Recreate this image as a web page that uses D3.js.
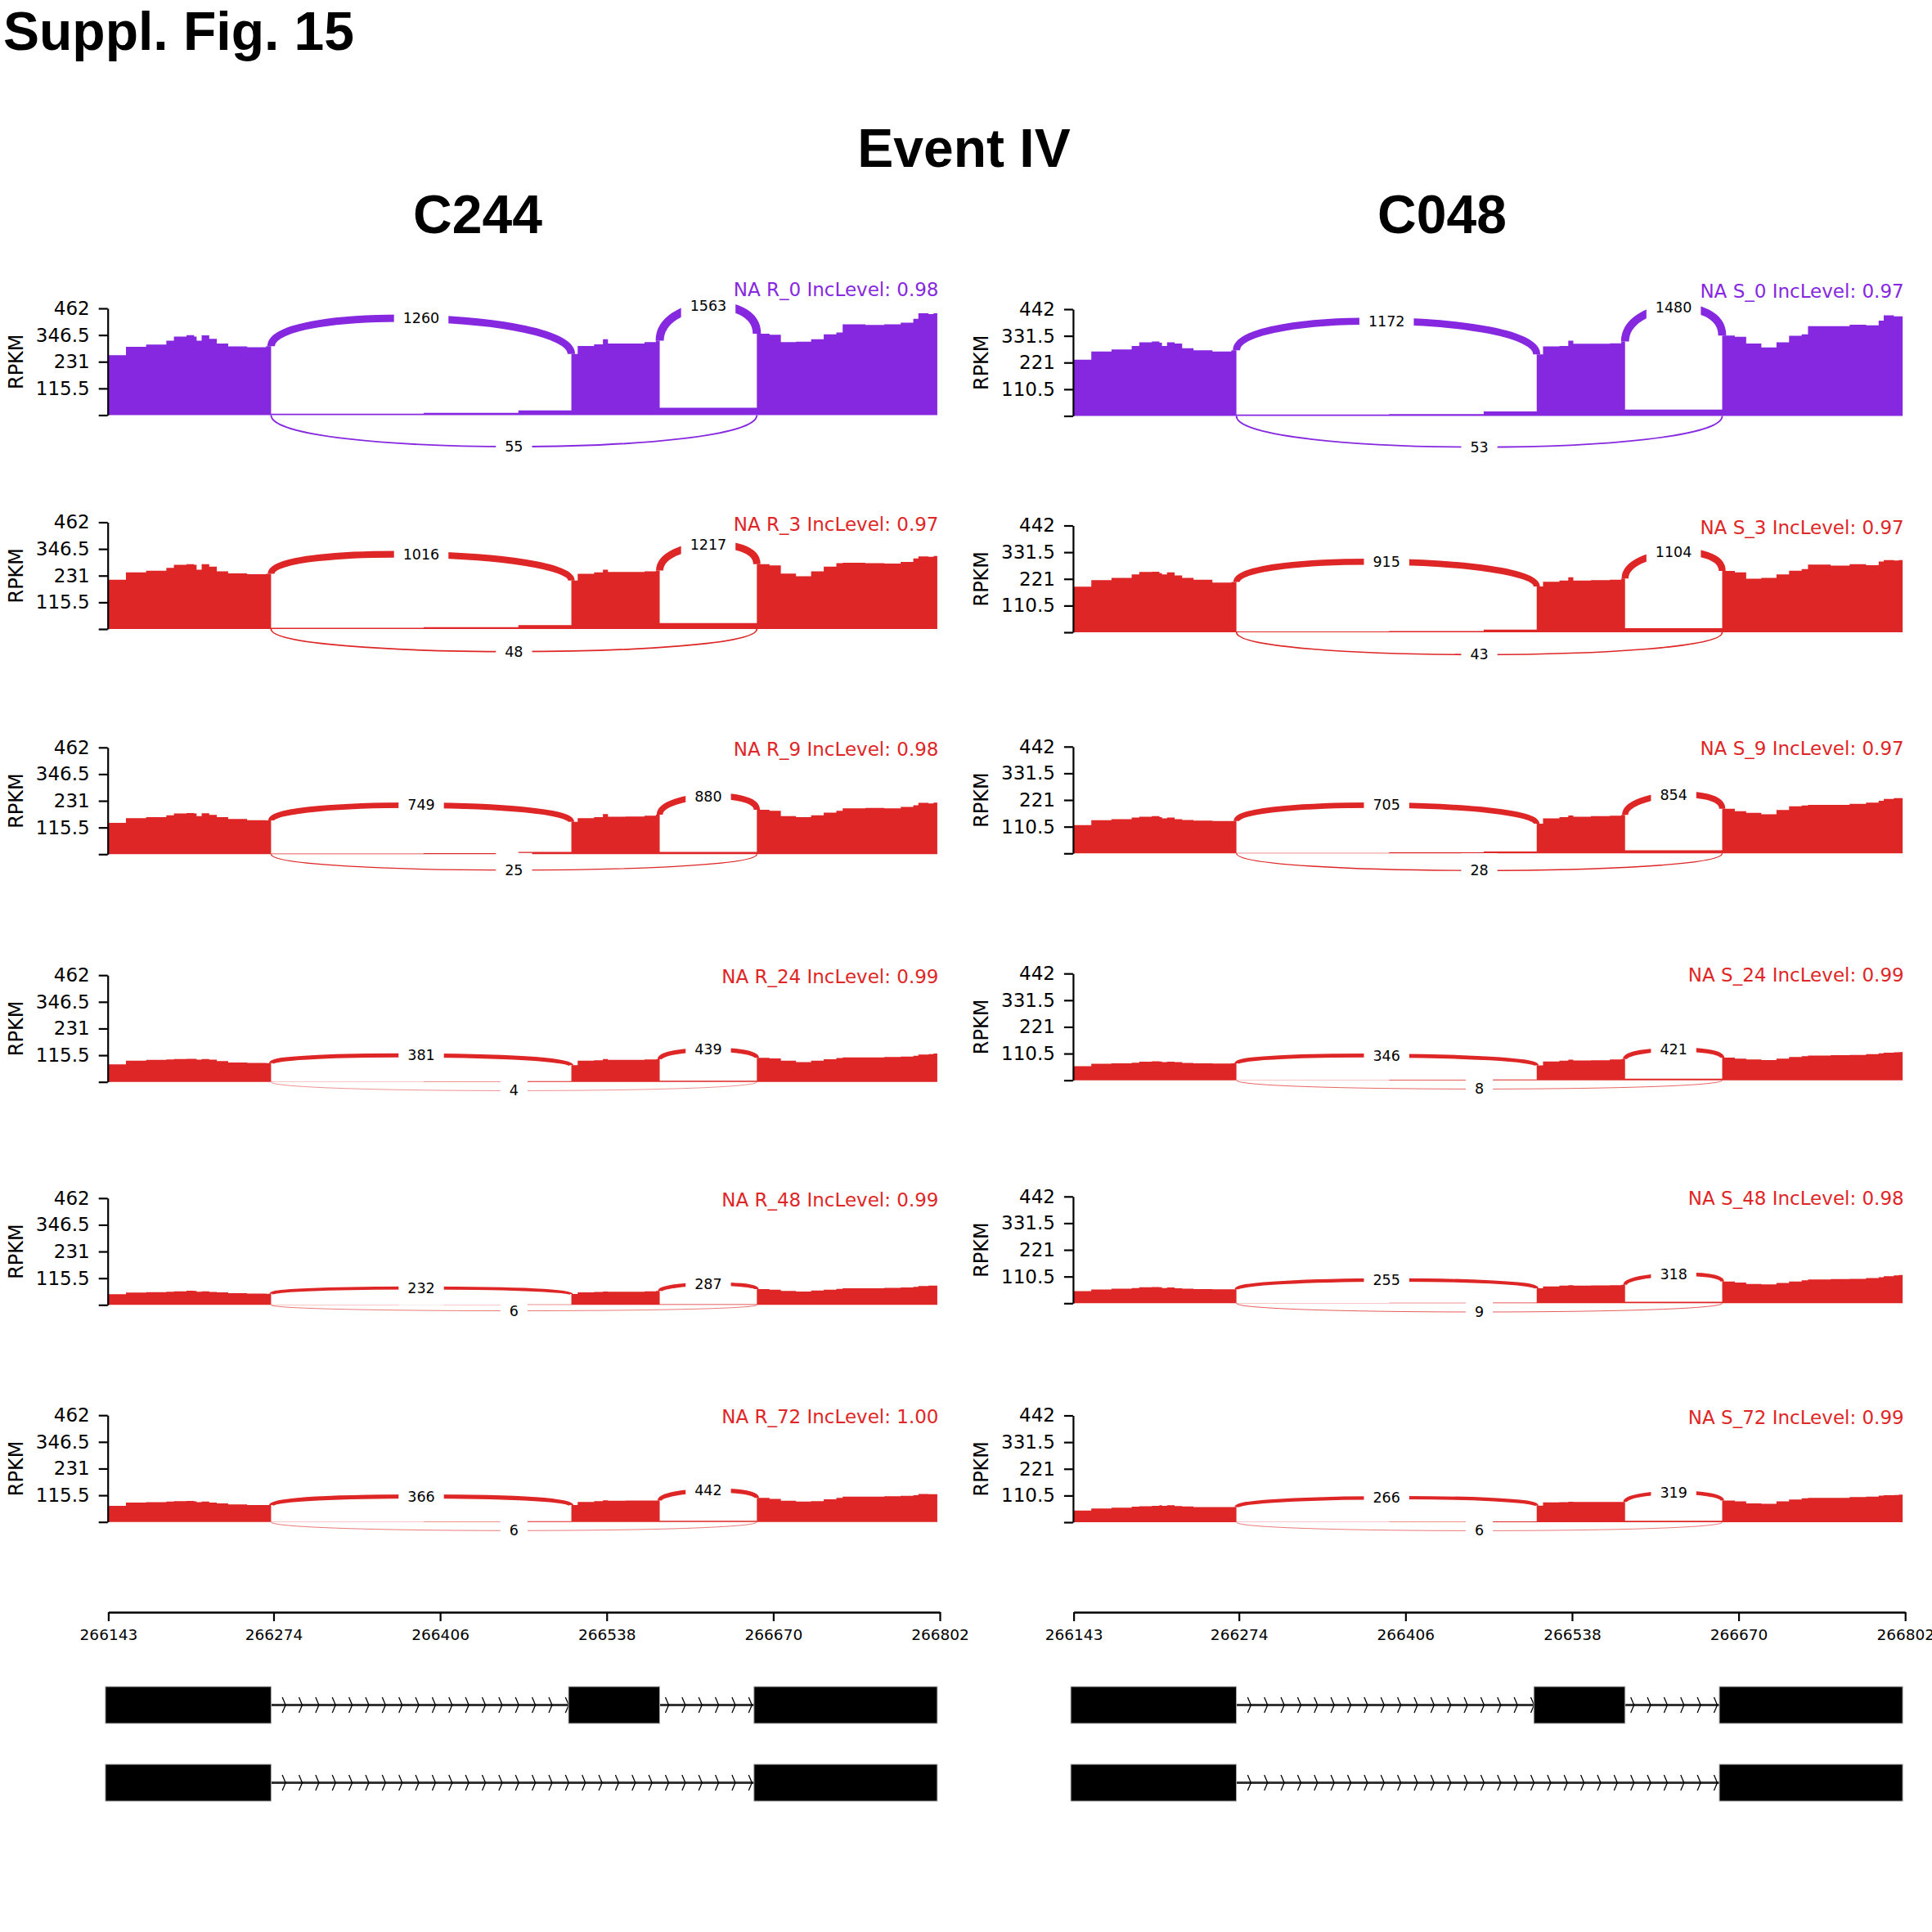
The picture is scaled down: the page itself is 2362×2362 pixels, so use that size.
<!DOCTYPE html>
<html><head><meta charset="utf-8">
<script src="https://cdn.jsdelivr.net/npm/d3@7"></script>
<style>body{margin:0;background:#fff}svg{display:block}</style>
</head><body>
<script>
// ================= DATA =================
const figureTitle = "Suppl. Fig. 15";
const eventTitle = "Event IV";
const columnNames = ["C244", "C048"];
const sampleNamesC244 = ["R_0", "R_3", "R_9", "R_24", "R_48", "R_72"];
const sampleNamesC048 = ["S_0", "S_3", "S_9", "S_24", "S_48", "S_72"];
const incLevelC244 = ["0.98", "0.97", "0.98", "0.99", "0.99", "1.00"];
const incLevelC048 = ["0.97", "0.97", "0.97", "0.99", "0.98", "0.99"];
// junction read counts: exon1->exon2 (top), exon2->exon3 (top), exon1->exon3 (bottom)
const jxn12C244 = [1260, 1016, 749, 381, 232, 366];
const jxn23C244 = [1563, 1217, 880, 439, 287, 442];
const jxn13C244 = [55, 48, 25, 4, 6, 6];
const jxn12C048 = [1172, 915, 705, 346, 255, 266];
const jxn23C048 = [1480, 1104, 854, 421, 318, 319];
const jxn13C048 = [53, 43, 28, 8, 9, 6];
const yTicksC244 = [0, 115.5, 231, 346.5, 462];
const yTicksC048 = [0, 110.5, 221, 331.5, 442];
const xTickLabels = [266143, 266274, 266406, 266538, 266670, 266802];
const exonsIsoform1 = [[266143, 266272], [266510, 266580], [266657, 266800]];
const exonsIsoform2 = [[266143, 266272], [266657, 266800]];
const covEnd = 266800;
// genomic breakpoints of the coverage step profile (shared by all samples)
const covPositions = [266143, 266157, 266173, 266189, 266195, 266205, 266211, 266213, 266217, 266223, 266229, 266238, 266253, 266268,
  266272, 266393, 266468,
  266510, 266515, 266528, 266535, 266539, 266553, 266568, 266577,
  266580,
  266657, 266667, 266676, 266688, 266700, 266710, 266720, 266725, 266743, 266758, 266771, 266781, 266785, 266793, 266797];
// RPKM coverage values at those breakpoints
const covR_0 = [259,296,305,322,340,346,340,322,345,330,310,297,294,298, 6,10,20, 265,299,306,328,310,310,316,322, 32, 352,348,316,318,328,350,358,393,390,393,400,417,441,437,441];
const covR_3 = [213,245,252,265,278,281,278,257,281,270,250,241,237,239, 5,8,17, 210,239,245,257,247,247,250,253, 26, 281,275,240,228,250,270,285,287,285,283,290,305,314,312,316];
const covR_9 = [136,156,160,168,176,178,176,165,177,170,160,152,147,146, 3,5,10, 140,156,160,174,162,163,167,171, 10, 192,188,165,160,168,180,188,198,200,198,205,212,222,220,223];
const covR_24 = [76,92,95,97,99,100,100,96,99,96,90,84,82,81, 1,2,3, 72,92,94,99,95,95,97,98, 5, 104,102,92,86,92,98,103,106,106,108,110,113,118,120,123];
const covR_48 = [46,53,55,57,59,61,60,57,59,56,54,51,49,48, 1,1,2, 47,54,56,58,57,57,59,60, 3, 68,66,60,58,62,66,69,72,72,74,75,78,82,83,83];
const covR_72 = [70,84,86,88,90,91,89,86,88,84,80,76,73,73, 1,2,3, 73,87,90,94,92,93,93,93, 5, 104,100,92,88,90,98,104,110,110,111,113,116,121,120,120];
const covS_0 = [233,267,275,290,305,308,303,290,305,300,280,272,267,272, 6,8,19, 255,288,290,312,299,299,301,308, 26, 333,328,300,284,305,332,338,372,372,378,375,395,417,412,412];
const covS_3 = [189,216,225,240,250,251,245,240,248,235,225,218,206,208, 3,5,11, 190,209,214,228,214,216,218,223, 17, 254,248,222,225,240,255,262,280,276,282,278,293,299,297,299];
const covS_9 = [117,137,142,148,152,154,150,145,148,142,138,136,134,134, 2,4,8, 123,145,150,157,152,154,156,159, 13, 185,175,168,162,180,195,198,201,201,205,210,218,225,229,229];
const covS_24 = [58,68,70,73,77,79,78,75,77,75,72,70,69,70, 1,2,3, 62,78,81,85,82,83,86,88, 7, 94,90,86,84,90,96,100,102,104,105,108,112,114,116,117];
const covS_48 = [50,57,60,63,66,67,66,63,65,62,60,59,58,58, 1,2,3, 62,70,73,75,73,74,75,76, 6, 90,86,80,78,84,90,95,98,100,101,104,108,112,115,117];
const covS_72 = [48,57,60,64,66,68,70,68,70,67,65,63,63,63, 1,2,3, 69,82,83,85,84,84,84,84, 6, 90,86,78,76,86,94,99,101,101,104,106,110,112,113,114];

// ================= LAYOUT / STYLE =================
const W = 2362, H = 2362;
const PURPLE = "#8628e0", RED = "#df2626";
const columns = [
  { name: columnNames[0], samples: sampleNamesC244, inc: incLevelC244, j12: jxn12C244, j23: jxn23C244, j13: jxn13C244,
    cov: [covR_0, covR_3, covR_9, covR_24, covR_48, covR_72], yTicks: yTicksC244,
    dx: 0, titleX: 584, base: [507.5, 769, 1044.3, 1322.7, 1595.3, 1860.7] },
  { name: columnNames[1], samples: sampleNamesC048, inc: incLevelC048, j12: jxn12C048, j23: jxn23C048, j13: jxn13C048,
    cov: [covS_0, covS_3, covS_9, covS_24, covS_48, covS_72], yTicks: yTicksC048,
    dx: 1180.2, titleX: 1763, base: [508.5, 773, 1043.3, 1320.7, 1593.3, 1861] }
];
const panelH = 130.5;
const xDomain = [xTickLabels[0], xTickLabels[xTickLabels.length - 1]];
const xRangeLocal = [132.4, 1149];

const svg = d3.select("body").append("svg").attr("width", W).attr("height", H)
  .attr("font-family", "DejaVu Sans");

const boldFont = "'Liberation Sans', Arial, sans-serif";
svg.append("text").attr("x", 4).attr("y", 61).attr("font-family", boldFont).attr("font-weight", "bold")
  .attr("font-size", 66).text(figureTitle);
svg.append("text").attr("x", 1178.5).attr("y", 204).attr("text-anchor", "middle").attr("font-family", boldFont)
  .attr("font-weight", "bold").attr("font-size", 66).text(eventTitle);

function drawLabel(g, x, y, txt) {
  const lg = g.append("g");
  const t = lg.append("text").attr("x", x).attr("y", y).attr("text-anchor", "middle")
    .attr("dominant-baseline", "central").attr("font-size", 17.5).attr("fill", "#000").text(txt);
  const bb = t.node().getBBox();
  const pad = 11;
  lg.insert("rect", "text").attr("x", bb.x - pad).attr("y", bb.y - pad)
    .attr("width", bb.width + 2 * pad).attr("height", bb.height + 2 * pad).attr("fill", "#fff");
}

columns.forEach(col => {
  const g = svg.append("g").attr("transform", `translate(${col.dx},0)`);
  g.append("text").attr("x", col.titleX - col.dx).attr("y", 285).attr("text-anchor", "middle")
    .attr("font-family", boldFont).attr("font-weight", "bold").attr("font-size", 66).text(col.name);
  const x = d3.scaleLinear().domain(xDomain).range(xRangeLocal);
  const yMax = col.yTicks[col.yTicks.length - 1];

  col.cov.forEach((vals, i) => {
    const color = i === 0 ? PURPLE : RED;
    const yb = col.base[i];
    const y = d3.scaleLinear().domain([0, yMax]).range([yb, yb - panelH]);
    const pg = g.append("g");
    const pts = covPositions.map((p, k) => ({ p, v: vals[k] }));
    pts.push({ p: covEnd, v: vals[vals.length - 1] });
    const area = d3.area().x(d => x(d.p)).y0(y(0)).y1(d => y(d.v)).curve(d3.curveStepAfter);
    pg.append("path").attr("d", area(pts)).attr("fill", color);

    const covAt = pos => { let v = vals[0]; covPositions.forEach((p, k) => { if (p <= pos) v = vals[k]; }); return v; };
    const covBefore = pos => covAt(pos - 1);
    const h = 0.4125 * d3.max(vals);
    const lw = c => 0.2535 * Math.sqrt(c);
    const labels = [];
    let arcTop = Infinity;
    const topArc = (s, e, count) => {
      const l = covBefore(s), r = covAt(e);
      const p = d3.path();
      p.moveTo(x(s), y(l));
      p.bezierCurveTo(x(s), y(l + h), x(e), y(r + h), x(e), y(r));
      pg.append("path").attr("d", p.toString()).attr("fill", "none").attr("stroke", color).attr("stroke-width", lw(count));
      const my = y((l + r) / 2 + 0.75 * h);
      arcTop = Math.min(arcTop, my);
      labels.push([(x(s) + x(e)) / 2, my, count]);
    };
    const botArc = (s, e, count) => {
      const p = d3.path();
      p.moveTo(x(s), y(0));
      p.bezierCurveTo(x(s), y(-h), x(e), y(-h), x(e), y(0));
      pg.append("path").attr("d", p.toString()).attr("fill", "none").attr("stroke", color).attr("stroke-width", lw(count));
      labels.push([(x(s) + x(e)) / 2, y(-0.75 * h), count]);
    };
    topArc(exonsIsoform1[0][1], exonsIsoform1[1][0], col.j12[i]);
    topArc(exonsIsoform1[1][1], exonsIsoform1[2][0], col.j23[i]);
    botArc(exonsIsoform1[0][1], exonsIsoform1[2][0], col.j13[i]);
    labels.forEach(([lx, ly, c]) => drawLabel(pg, lx, ly, String(c)));

    // y axis
    const ax = pg.append("g").attr("transform", `translate(${xRangeLocal[0] - 0.7},0)`)
      .call(d3.axisLeft(y).tickValues(col.yTicks).tickSize(11).tickSizeOuter(0).tickPadding(11)
        .tickFormat(d => d === 0 ? "" : String(d)));
    ax.select(".domain").attr("stroke-width", 2.2);
    ax.selectAll(".tick line").attr("stroke-width", 2.2);
    ax.selectAll(".tick text").attr("font-size", 23).attr("font-family", "DejaVu Sans");
    pg.append("text").attr("transform", `translate(28,${yb - panelH / 2}) rotate(-90)`).attr("text-anchor", "middle")
      .attr("font-size", 24).text("RPKM");

    // sample title
    const ty = Math.min(yb - panelH + 10, arcTop - 12);
    pg.append("text").attr("x", xRangeLocal[1] - 1.5).attr("y", ty).attr("text-anchor", "end")
      .attr("font-size", 23).attr("fill", color).text(`NA ${col.samples[i]} IncLevel: ${col.inc[i]}`);
  });

  // bottom genomic axis
  const bx = g.append("g").attr("transform", "translate(0,1971)")
    .call(d3.axisBottom(x).tickValues(xTickLabels).tickSize(11).tickSizeOuter(0).tickPadding(10)
      .tickFormat(d => String(d)));
  bx.select(".domain").attr("stroke-width", 2.5);
  bx.selectAll(".tick line").attr("stroke-width", 2.2);
  bx.selectAll(".tick text").attr("font-size", 18.5).attr("font-family", "DejaVu Sans");

  // gene models
  const isoforms = [exonsIsoform1, exonsIsoform2];
  const rowY = [2062, 2157];
  const exH = 45;
  isoforms.forEach((exons, r) => {
    const cy = rowY[r] + exH / 2;
    const ig = g.append("g");
    for (let k = 0; k < exons.length - 1; k++) {
      ig.append("line").attr("x1", x(exons[k][1])).attr("x2", x(exons[k + 1][0]))
        .attr("y1", cy).attr("y2", cy).attr("stroke", "#333").attr("stroke-width", 3);
    }
    const start = exons[0][1], end = exons[exons.length - 1][0];
    for (let p = start + 11.5; p <= end; p += 13.2) {
      const cx = x(p);
      ig.append("path").attr("d", `M${cx - 4},${cy - 9.5}L${cx},${cy}L${cx - 4},${cy + 9.5}`)
        .attr("fill", "none").attr("stroke", "#000").attr("stroke-width", 1.3);
    }
    exons.forEach(e => {
      ig.append("rect").attr("x", x(e[0]) - 3.5).attr("y", rowY[r]).attr("width", x(e[1]) - x(e[0]) + 3.5)
        .attr("height", exH).attr("fill", "#000").attr("stroke", "#aaa").attr("stroke-width", 1);
    });
  });
});
</script>
</body></html>
